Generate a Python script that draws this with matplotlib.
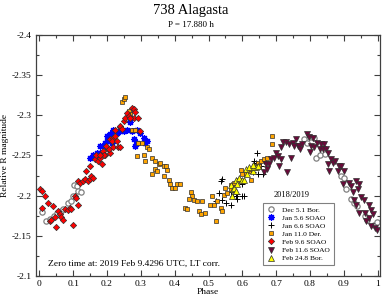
import matplotlib
matplotlib.use("Agg")
import matplotlib.pyplot as plt
from matplotlib.ticker import MultipleLocator, FormatStrFormatter

plt.rcParams['font.family'] = ['Liberation Serif', 'DejaVu Serif']

# ─── Data (phase, relative R magnitude) ─────────────────
dec05_phase = [0.007, 0.019, 0.033, 0.044, 0.053, 0.063, 0.071, 0.086, 0.093, 0.101, 0.103, 0.111, 0.114, 0.122,
               0.782, 0.790, 0.800, 0.813, 0.817, 0.830, 0.843, 0.892, 0.900, 0.907, 0.921, 0.931, 0.940,
               0.961, 0.969, 0.988, 0.997]
dec05_mag = [-2.180, -2.168, -2.171, -2.175, -2.178, -2.181, -2.184, -2.191, -2.193, -2.200, -2.213, -2.212, -2.206, -2.204,
             -2.270, -2.266, -2.273, -2.272, -2.247, -2.251, -2.252, -2.224, -2.222, -2.208, -2.196, -2.191, -2.187,
             -2.175, -2.170, -2.164, -2.167]

jan05_phase = [0.151, 0.160, 0.170, 0.175, 0.179, 0.180, 0.185, 0.194, 0.195, 0.200, 0.200, 0.210, 0.214, 0.219,
               0.229, 0.239, 0.249, 0.259, 0.269, 0.274, 0.279, 0.284, 0.289, 0.288, 0.299, 0.309, 0.313, 0.318]
jan05_mag = [-2.247, -2.250, -2.253, -2.249, -2.253, -2.262, -2.253, -2.265, -2.262, -2.274, -2.268, -2.276, -2.265, -2.282,
             -2.278, -2.280, -2.280, -2.282, -2.291, -2.280, -2.270, -2.262, -2.282, -2.266, -2.278, -2.272, -2.266, -2.268]

jan06_phase = [0.521, 0.531, 0.536, 0.541, 0.541, 0.551, 0.566, 0.566, 0.571, 0.580, 0.585, 0.585, 0.600, 0.600,
               0.605, 0.615, 0.630, 0.635, 0.640, 0.642, 0.645, 0.655, 0.660, 0.664]
jan06_mag = [-2.193, -2.203, -2.218, -2.195, -2.221, -2.191, -2.189, -2.204, -2.200, -2.200, -2.202, -2.196, -2.200, -2.214,
             -2.200, -2.231, -2.229, -2.243, -2.241, -2.253, -2.227, -2.237, -2.227, -2.243]

jan11_phase = [0.244, 0.249, 0.254, 0.264, 0.269, 0.274, 0.283, 0.293, 0.304, 0.289, 0.309, 0.318, 0.323, 0.313,
               0.333, 0.343, 0.353, 0.358, 0.368, 0.373, 0.378, 0.343, 0.348, 0.333, 0.368, 0.383, 0.387, 0.393,
               0.402, 0.407, 0.417, 0.432, 0.437, 0.447, 0.452, 0.442, 0.457, 0.467, 0.471, 0.477, 0.482, 0.491,
               0.504, 0.511, 0.516, 0.521, 0.526, 0.536, 0.541, 0.546, 0.556, 0.548, 0.566, 0.566, 0.575, 0.590,
               0.595, 0.600, 0.610, 0.620, 0.625, 0.625, 0.635, 0.645, 0.650, 0.655, 0.664, 0.674, 0.689, 0.689]
jan11_mag = [-2.316, -2.320, -2.322, -2.305, -2.301, -2.282, -2.282, -2.266, -2.266, -2.249, -2.251, -2.260, -2.258, -2.243,
             -2.247, -2.243, -2.239, -2.240, -2.237, -2.237, -2.232, -2.233, -2.231, -2.227, -2.225, -2.220, -2.214, -2.209,
             -2.209, -2.214, -2.215, -2.185, -2.183, -2.204, -2.200, -2.196, -2.195, -2.193, -2.181, -2.177, -2.193, -2.178,
             -2.188, -2.200, -2.189, -2.169, -2.193, -2.185, -2.181, -2.201, -2.203, -2.210, -2.208, -2.213, -2.216, -2.220,
             -2.232, -2.227, -2.227, -2.231, -2.220, -2.233, -2.237, -2.240, -2.237, -2.243, -2.245, -2.247, -2.264, -2.274]

feb09_phase = [0.001, 0.008, 0.016, 0.008, 0.026, 0.041, 0.031, 0.036, 0.046, 0.050, 0.055, 0.060, 0.065, 0.070,
               0.075, 0.085, 0.090, 0.095, 0.100, 0.105, 0.107, 0.113, 0.114, 0.120, 0.130, 0.135, 0.139, 0.144,
               0.149, 0.154, 0.159, 0.149, 0.164, 0.172, 0.169, 0.179, 0.184, 0.189, 0.194, 0.203, 0.208, 0.198,
               0.205, 0.209, 0.218, 0.225, 0.219, 0.234, 0.225, 0.239, 0.249, 0.254, 0.259, 0.264, 0.274, 0.279,
               0.284, 0.279, 0.293, 0.299, 0.269, 0.239, 0.244, 0.215, 0.229, 0.237, 0.190, 0.180]
feb09_mag = [-2.208, -2.206, -2.200, -2.185, -2.191, -2.187, -2.168, -2.170, -2.174, -2.161, -2.181, -2.177, -2.173, -2.170,
             -2.183, -2.182, -2.185, -2.183, -2.164, -2.200, -2.197, -2.189, -2.218, -2.216, -2.218, -2.221, -2.231, -2.218,
             -2.221, -2.224, -2.222, -2.237, -2.245, -2.243, -2.251, -2.247, -2.239, -2.255, -2.251, -2.258, -2.253, -2.262,
             -2.258, -2.270, -2.272, -2.274, -2.260, -2.260, -2.282, -2.285, -2.293, -2.297, -2.303, -2.299, -2.309, -2.307,
             -2.304, -2.297, -2.297, -2.280, -2.297, -2.287, -2.283, -2.268, -2.268, -2.260, -2.251, -2.250]

feb11_phase = [0.664, 0.669, 0.674, 0.679, 0.684, 0.694, 0.699, 0.704, 0.709, 0.714, 0.714, 0.719, 0.729, 0.733,
               0.739, 0.743, 0.749, 0.753, 0.758, 0.763, 0.768, 0.771, 0.776, 0.790, 0.798, 0.801, 0.802, 0.808,
               0.812, 0.821, 0.828, 0.833, 0.837, 0.842, 0.847, 0.852, 0.852, 0.857, 0.862, 0.867, 0.874, 0.882,
               0.886, 0.892, 0.896, 0.901, 0.916, 0.921, 0.926, 0.936, 0.941, 0.946, 0.931, 0.936, 0.946, 0.951,
               0.959, 0.961, 0.966, 0.973, 0.975, 0.980, 0.980, 0.986, 0.993, 0.998]
feb11_mag = [-2.229, -2.239, -2.233, -2.239, -2.245, -2.247, -2.253, -2.249, -2.237, -2.245, -2.260, -2.267, -2.267, -2.229,
             -2.264, -2.247, -2.266, -2.262, -2.270, -2.262, -2.262, -2.258, -2.264, -2.276, -2.273, -2.254, -2.262, -2.272,
             -2.260, -2.266, -2.258, -2.264, -2.258, -2.264, -2.258, -2.253, -2.239, -2.231, -2.246, -2.241, -2.243, -2.231,
             -2.237, -2.237, -2.214, -2.231, -2.216, -2.212, -2.204, -2.218, -2.208, -2.214, -2.195, -2.189, -2.178, -2.198,
             -2.195, -2.178, -2.168, -2.188, -2.172, -2.182, -2.162, -2.177, -2.160, -2.158]

feb24_phase = [0.566, 0.570, 0.571, 0.575, 0.580, 0.580, 0.585, 0.590, 0.600, 0.605, 0.610, 0.615, 0.620, 0.630,
               0.635, 0.640, 0.630, 0.645]
feb24_mag = [-2.213, -2.200, -2.208, -2.210, -2.206, -2.220, -2.214, -2.222, -2.219, -2.220, -2.233, -2.227, -2.235, -2.231,
             -2.236, -2.235, -2.238, -2.237]

labels = ["Dec 5.1 Bor.", "Jan 5.6 SOAO", "Jan 6.6 SOAO", "Jan 11.0 Der.",
          "Feb 9.6 SOAO", "Feb 11.6 SOAO", "Feb 24.8 Bor."]

# ─── Figure ─────────────────────────────────────────────
fig = plt.figure(figsize=(3.82, 2.98), dpi=100)
ax = fig.add_axes([0.0935, 0.073, 0.9013, 0.811])

ms = 3.8
ax.plot(dec05_phase, dec05_mag, 'o', ms=ms, mfc='white', mec='#808080', mew=0.9, label=labels[0])
ax.plot(jan05_phase, jan05_mag, ls='none', marker=(8, 2, 0), ms=ms + 1, mec='#0000ff', mew=0.9, label=labels[1])
ax.plot(jan06_phase, jan06_mag, '+', ms=ms + 0.5, mec='black', mew=0.7, label=labels[2])
ax.plot(jan11_phase, jan11_mag, 's', ms=ms - 0.2, mfc='#ffa500', mec='#303030', mew=0.5, label=labels[3])
ax.plot(feb09_phase, feb09_mag, 'D', ms=ms - 0.6, mfc='#ff0000', mec='#303030', mew=0.5, label=labels[4])
ax.plot(feb11_phase, feb11_mag, 'v', ms=ms + 0.3, mfc='#6a0a3a', mec='#303030', mew=0.5, label=labels[5])
ax.plot(feb24_phase, feb24_mag, '^', ms=ms + 0.3, mfc='#ffff00', mec='#303030', mew=0.5, label=labels[6])

ax.set_xlim(-0.0106, 1.0068)
ax.set_ylim(-2.1, -2.4)

ax.xaxis.set_major_locator(MultipleLocator(0.1))
ax.xaxis.set_minor_locator(MultipleLocator(0.05))
ax.yaxis.set_major_locator(MultipleLocator(0.05))
ax.yaxis.set_minor_locator(MultipleLocator(0.025))
ax.xaxis.set_major_formatter(FormatStrFormatter('%g'))
ax.yaxis.set_major_formatter(FormatStrFormatter('%g'))
ax.tick_params(which='both', direction='in', top=True, right=True, labelsize=6.8, color='#404040', pad=3)
ax.tick_params(which='major', length=4.5, width=0.8)
ax.tick_params(which='minor', length=2.5, width=0.8)
for s in ax.spines.values():
    s.set_linewidth(0.9)
    s.set_color('#404040')

ax.set_xlabel("Phase", fontsize=6.8, labelpad=0)
ax.set_ylabel("Relative R magnitude", fontsize=6.8, labelpad=2)

fig.text(0.5, 0.965, "738 Alagasta", ha='center', va='center', fontsize=10.5)
fig.text(0.5, 0.915, "P = 17.880 h", ha='center', va='center', fontsize=6.5)

ax.text(0.035, 0.05, "Zero time at: 2019 Feb 9.4296 UTC, LT corr.", transform=ax.transAxes,
        fontsize=6.8, va='center', ha='left')
ax.text(0.742, 0.337, "2018/2019", transform=ax.transAxes, fontsize=6, ha='center', va='center')

leg = ax.legend(loc='upper left', bbox_to_anchor=(0.66, 0.305), fontsize=5.4, frameon=True, fancybox=False,
                edgecolor='#606060', labelspacing=0.25, handletextpad=0.9, handlelength=1.2,
                borderpad=0.5, borderaxespad=0)
leg.get_frame().set_linewidth(0.8)

fig.savefig("out.png", dpi=100)
